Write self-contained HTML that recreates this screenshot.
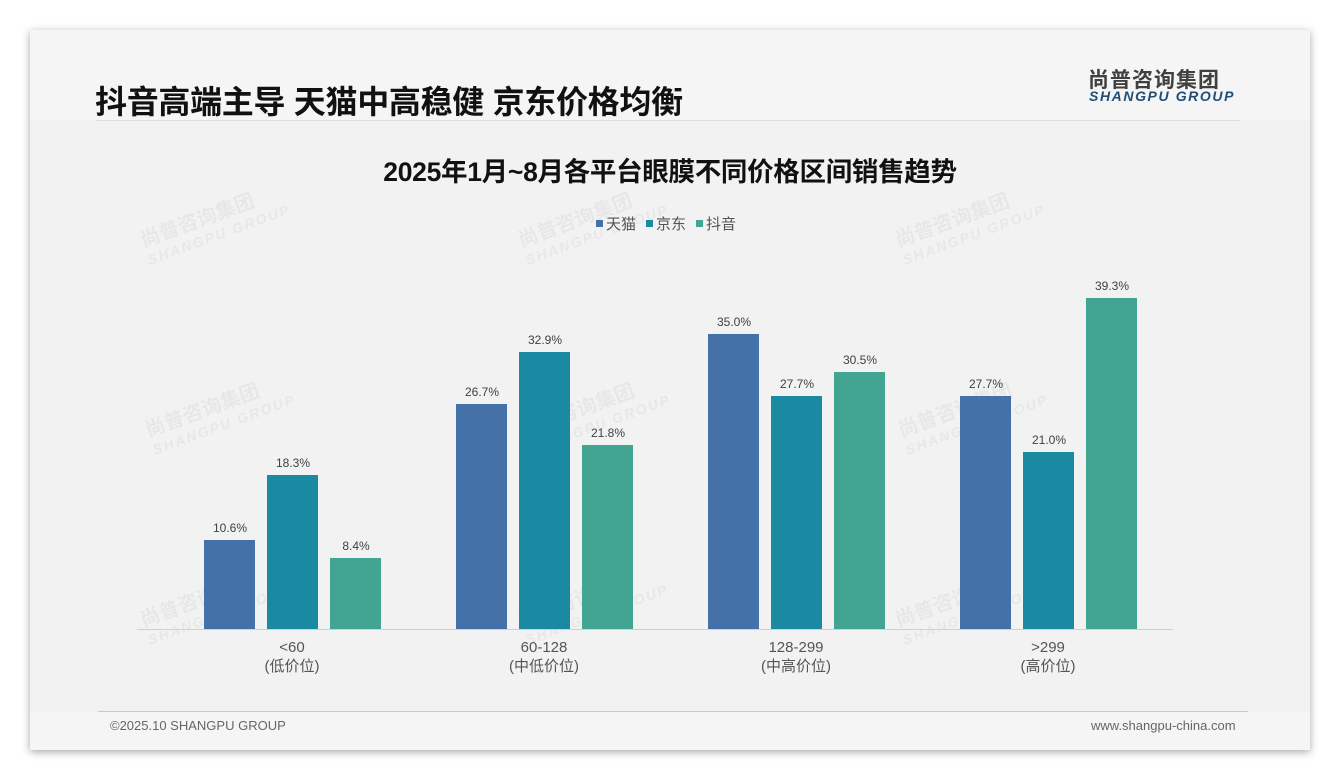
<!DOCTYPE html>
<html><head><meta charset="utf-8"><style>
body{margin:0;width:1340px;height:780px;background:#fff;position:relative;font-family:"Liberation Sans","Noto Sans CJK SC",sans-serif;overflow:hidden}
.card{position:absolute;left:30px;top:30px;width:1280px;height:720px;background:#f5f5f5;box-shadow:0 2px 8px rgba(0,0,0,.35)}
.plot{position:absolute;left:30px;top:120px;width:1280px;height:592px;background:#f2f2f2}
.a{position:absolute;white-space:nowrap}
.bar{position:absolute;width:51px}
.v{position:absolute;width:60px;text-align:center;font-size:12px;color:#404040}
.c{position:absolute;width:160px;text-align:center;font-size:15px;color:#555;line-height:19px}
.wm{position:absolute;color:rgba(0,0,0,0.045);font-weight:bold;transform:rotate(-20deg);font-size:20px;line-height:20px}
.wm small{display:block;font-size:14px;font-style:italic;letter-spacing:2px}
.sq{display:inline-block;width:7px;height:7px;vertical-align:2px;margin-right:3px}
</style></head><body>
<div class="card"></div><div class="plot"></div>
<div class="wm" style="left:140px;top:205px">尚普咨询集团<small>SHANGPU GROUP</small></div>
<div class="wm" style="left:518px;top:205px">尚普咨询集团<small>SHANGPU GROUP</small></div>
<div class="wm" style="left:895px;top:205px">尚普咨询集团<small>SHANGPU GROUP</small></div>
<div class="wm" style="left:145px;top:395px">尚普咨询集团<small>SHANGPU GROUP</small></div>
<div class="wm" style="left:520px;top:395px">尚普咨询集团<small>SHANGPU GROUP</small></div>
<div class="wm" style="left:898px;top:395px">尚普咨询集团<small>SHANGPU GROUP</small></div>
<div class="wm" style="left:140px;top:585px">尚普咨询集团<small>SHANGPU GROUP</small></div>
<div class="wm" style="left:518px;top:585px">尚普咨询集团<small>SHANGPU GROUP</small></div>
<div class="wm" style="left:895px;top:585px">尚普咨询集团<small>SHANGPU GROUP</small></div>
<div class="a" style="left:95px;top:77px;font-size:32px;font-weight:bold;color:#111;letter-spacing:-0.3px">抖音高端主导 天猫中高稳健 京东价格均衡</div>
<div class="a" style="left:96px;top:120px;width:1144px;height:1px;background:#ddd"></div>
<div class="a" style="left:1088px;top:64px;font-size:21px;font-weight:bold;color:#404040;letter-spacing:1px">尚普咨询集团</div>
<div class="a" style="left:1089px;top:88px;font-size:14px;font-weight:bold;font-style:italic;color:#1f4e79;letter-spacing:1.6px">SHANGPU GROUP</div>
<div class="a" style="left:0;width:1340px;text-align:center;top:150px;font-size:26.5px;font-weight:bold;color:#111;letter-spacing:-0.3px">2025年1月~8月各平台眼膜不同价格区间销售趋势</div>
<div class="a" style="left:596px;top:213px;font-size:15px;color:#555"><span class="sq" style="background:#4472a8"></span>天猫<span style="display:inline-block;width:10px"></span><span class="sq" style="background:#1a8aa3"></span>京东<span style="display:inline-block;width:10px"></span><span class="sq" style="background:#42a592"></span>抖音</div>
<div class="a" style="left:137px;top:629px;width:1036px;height:1px;background:#d0d0d0"></div>
<div id="bars"></div>
<div class="c" style="left:212px;top:638px">&lt;60<br>(低价位)</div>
<div class="c" style="left:464px;top:638px">60-128<br>(中低价位)</div>
<div class="c" style="left:716px;top:638px">128-299<br>(中高价位)</div>
<div class="c" style="left:968px;top:638px">&gt;299<br>(高价位)</div>
<div class="a" style="left:98px;top:711px;width:1150px;height:1px;background:#b8cce0"></div>
<div class="a" style="left:110px;top:718px;font-size:13px;color:#666">©2025.10 SHANGPU GROUP</div>
<div class="a" style="left:1091px;top:718px;font-size:13px;color:#666">www.shangpu-china.com</div>
<script>
var d=[[10.6,18.3,8.4],[26.7,32.9,21.8],[35.0,27.7,30.5],[27.7,21.0,39.3]],col=["#4472a8","#1a8aa3","#42a592"],h="";
d.forEach(function(g,i){g.forEach(function(v,j){var x=204+252*i+63*j,hh=Math.round(v*8.42),t=629-hh;
h+='<div class="bar" style="left:'+x+'px;top:'+t+'px;height:'+hh+'px;background:'+col[j]+'"></div><div class="v" style="left:'+(x-4)+'px;top:'+(t-19)+'px">'+v.toFixed(1)+'%</div>';});});
document.getElementById("bars").innerHTML=h;
</script>
</body></html>
